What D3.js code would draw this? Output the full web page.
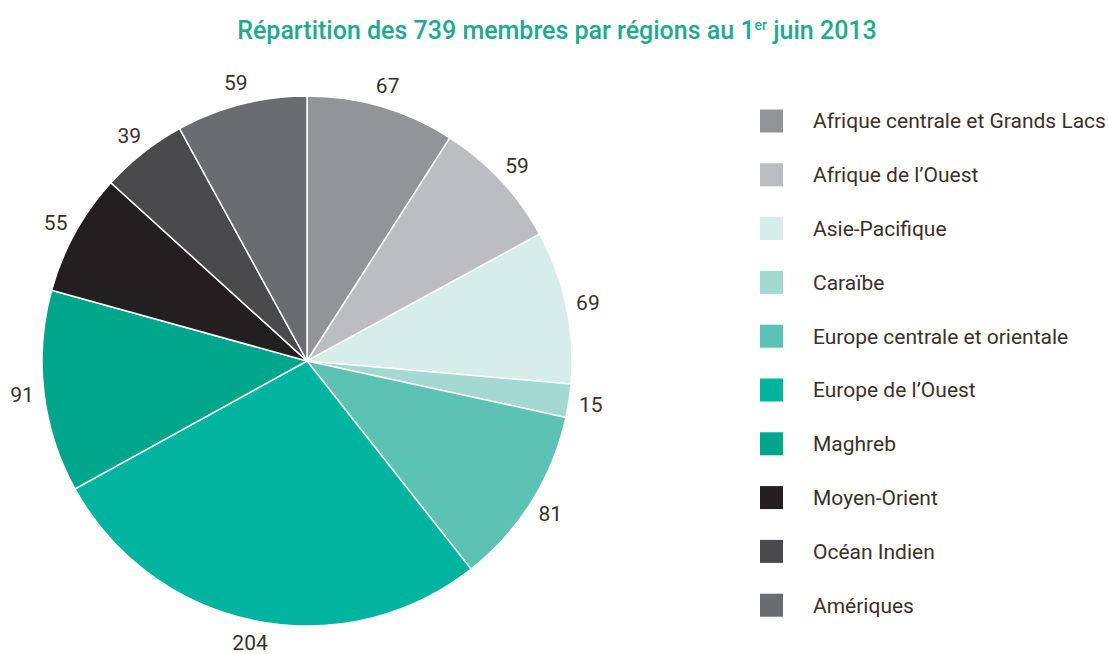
<!DOCTYPE html>
<html><head><meta charset="utf-8">
<script src="https://cdn.jsdelivr.net/npm/d3@7"></script>
<style>
html,body{margin:0;padding:0;background:#fff;}
text{font-family:"Roboto","Liberation Sans",sans-serif;}
</style></head>
<body>
<svg id="chart" width="1108" height="654"></svg>
<script>
const categories = ["Afrique centrale et Grands Lacs","Afrique de l\u2019Ouest","Asie-Pacifique","Caraïbe","Europe centrale et orientale","Europe de l\u2019Ouest","Maghreb","Moyen-Orient","Océan Indien","Amériques"];
const values = [67,59,69,15,81,204,91,55,39,59];
const colors = ["#939498","#bcbdc0","#d7ede9","#a3d9d0","#5cc3b4","#00b4a0","#00a68c","#231f20","#4a4a4d","#6b6c70"];
const titleText = "Répartition des 739 membres par régions au 1";

const svg = d3.select("#chart");
const cx = 307, cy = 361, R = 265, labelR = 287;
const textColor = "#3b3128";

const t = svg.append("text").attr("x",557).attr("y",39).attr("text-anchor","middle")
  .attr("fill","#1eaa8e").attr("font-size",25).attr("font-weight",500);
t.append("tspan").text(titleText);
t.append("tspan").text("er").attr("font-size",14).attr("dy",-9);
t.append("tspan").text(" juin 2013").attr("dy",9);

const data = categories.map((c,i)=>({name:c,value:values[i],color:colors[i]}));
const pie = d3.pie().value(d=>d.value).sort(null);
const arcs = pie(data);
const arc = d3.arc().innerRadius(0).outerRadius(R);
const labelArc = d3.arc().innerRadius(labelR).outerRadius(labelR);

const g = svg.append("g").attr("transform",`translate(${cx},${cy})`);
g.selectAll("path").data(arcs).join("path")
  .attr("d",arc).attr("fill",d=>d.data.color)
  .attr("stroke","#fff").attr("stroke-width",1.5);
g.selectAll("text.lbl").data(arcs).join("text").attr("class","lbl")
  .attr("transform",d=>`translate(${labelArc.centroid(d)})`)
  .attr("text-anchor","middle").attr("dy","0.35em")
  .attr("font-size",21).attr("fill",textColor)
  .text(d=>d.data.value);

const leg = svg.append("g");
const y0 = 121, step = 53.8;
const rows = leg.selectAll("g").data(data).join("g")
  .attr("transform",(d,i)=>`translate(760,${y0+i*step})`);
rows.append("rect").attr("x",0).attr("y",-11.5).attr("width",23).attr("height",23)
  .attr("fill",d=>d.color);
rows.append("text").attr("x",53).attr("y",0).attr("dy","0.35em")
  .attr("font-size",21).attr("fill",textColor).text(d=>d.name);
</script>
</body></html>
